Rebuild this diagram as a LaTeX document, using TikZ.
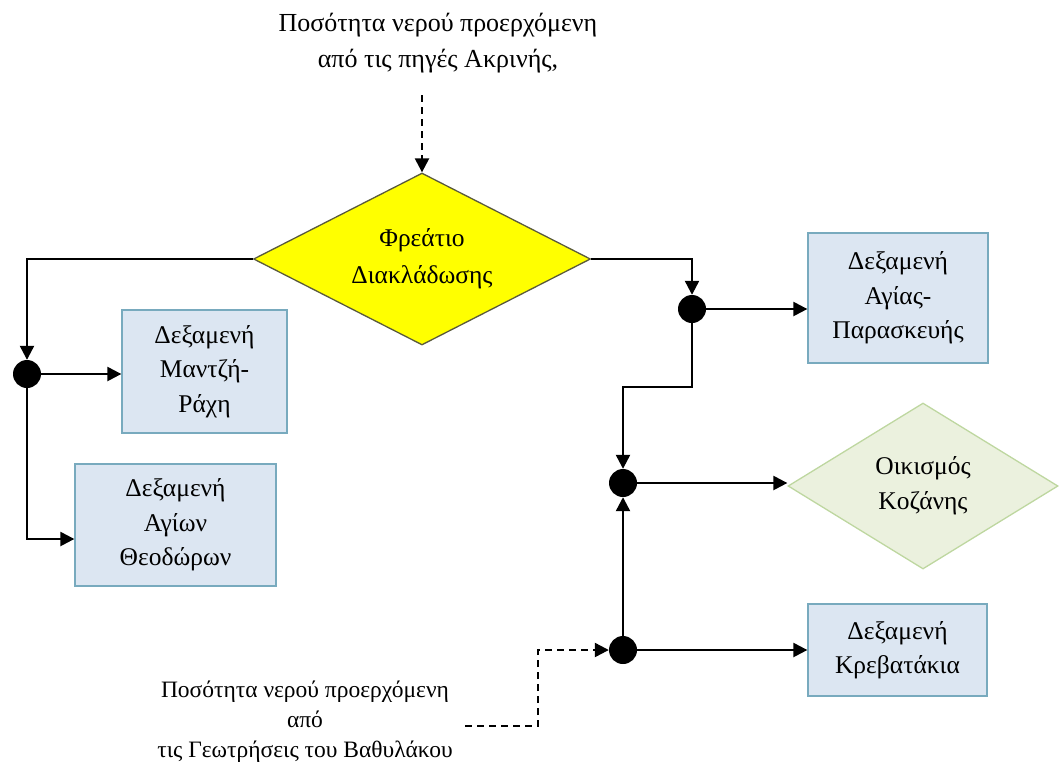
\documentclass[tikz,border=0pt]{standalone}
\usepackage{fontspec}
\setmainfont{Liberation Serif}
\usetikzlibrary{arrows.meta,shapes.geometric}
\definecolor{tankfill}{RGB}{220,230,242}
\definecolor{tankedge}{RGB}{120,170,190}
\definecolor{hubfill}{RGB}{255,255,0}
\definecolor{hubedge}{RGB}{90,90,60}
\definecolor{townfill}{RGB}{235,241,222}
\definecolor{townedge}{RGB}{190,215,160}
\tikzset{
  tank/.style={rectangle, draw=tankedge, fill=tankfill, line width=1.3pt,
    align=center, font=\fontsize{25.5}{34.5}\selectfont, inner sep=0pt},
  hub/.style={diamond, aspect=2, draw=hubedge, fill=hubfill, line width=1.3pt,
    align=center, font=\fontsize{25.5}{37}\selectfont, inner sep=0pt,
    minimum width=337pt, minimum height=172pt},
  town/.style={diamond, aspect=2, draw=townedge, fill=townfill, line width=1.3pt,
    align=center, font=\fontsize{25.5}{35}\selectfont, inner sep=0pt,
    minimum width=270pt, minimum height=166pt},
  joint/.style={circle, fill=black, minimum size=28pt, inner sep=0pt},
  note/.style={align=center, inner sep=0pt},
  pipe/.style={line width=2.3pt, -{Triangle[length=14pt,width=14pt]}},
  feed/.style={pipe, dash pattern=on 7pt off 5pt}
}
\begin{document}
\begin{tikzpicture}[x=1pt,y=-1pt]
\useasboundingbox (0,0) rectangle (1059,769);

% incoming sources
\node[note, font=\fontsize{26}{36}\selectfont] (srcA) at (438,43)
  {Ποσότητα νερού προερχόμενη\\από τις πηγές Ακρινής,};
\node[note, font=\fontsize{23.5}{30}\selectfont] (srcB) at (305,722)
  {Ποσότητα νερού προερχόμενη\\από\\τις Γεωτρήσεις του Βαθυλάκου};
\coordinate (srcAend) at (422,95);
\coordinate (srcBend) at (465,726);
\coordinate (srcBbend) at (538,726);

% branching chamber and settlement
\node[hub] (hub) at (422,259) {Φρεάτιο\\Διακλάδωσης};
\node[town] (town) at (923,486) {Οικισμός\\Κοζάνης};

% tanks
\node[tank, minimum width=165pt, minimum height=123pt] (tMR) at (204.5,371.5)
  {Δεξαμενή\\Μαντζή-\\Ράχη};
\node[tank, minimum width=201pt, minimum height=122pt] (tAT) at (175.5,525)
  {Δεξαμενή\\Αγίων\\Θεοδώρων};
\node[tank, minimum width=180pt, minimum height=130pt] (tAP) at (898,298)
  {Δεξαμενή\\Αγίας-\\Παρασκευής};
\node[tank, minimum width=179pt, minimum height=92pt] (tKR) at (897.5,650)
  {Δεξαμενή\\Κρεβατάκια};

% junctions
\node[joint] (jL) at (27,374) {};
\node[joint] (jR) at (692,309) {};
\node[joint] (jM) at (623,483) {};
\node[joint] (jB) at (623,650) {};
\coordinate (bend) at (623,387);

% dashed inflows
\draw[feed] (srcAend) -- (hub.north);
\draw[feed] (srcBend) -- (srcBbend) |- (jB);

% distribution pipes
\draw[pipe] (hub.west) -| (jL);
\draw[pipe] (jL) -- (jL -| tMR.west);
\draw[pipe] (jL) |- ([yshift=-14pt]tAT.west);
\draw[pipe] (hub.east) -| (jR);
\draw[pipe] (jR) -- (jR -| tAP.west);
\draw[pipe] (jR) |- (bend) -- (jM);
\draw[pipe] (jM) -- (jM -| town.west);
\draw[pipe] (jB) -- (jM);
\draw[pipe] (jB) -- (jB -| tKR.west);
\end{tikzpicture}
\end{document}
